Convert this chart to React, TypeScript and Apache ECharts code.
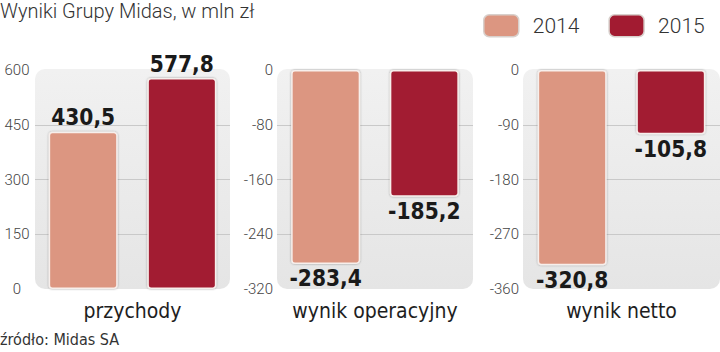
import React, { useEffect, useRef } from "react";
import * as echarts from "echarts";

const title = "Wyniki Grupy Midas, w mln zł";
const source = "źródło: Midas SA";
const years = ["2014", "2015"];
const groups = ["przychody", "wynik operacyjny", "wynik netto"];
const values2014 = [430.5, -283.4, -320.8];
const values2015 = [577.8, -185.2, -105.8];
const axisMin = [0, -320, -360];
const axisMax = [600, 0, 0];
const axisStep = [150, 80, 90];
const colors = ["#DC9681", "#A21B31"];

const gridLefts = [35, 277, 523];
const gridWidths = [195, 196, 197];
const GRID_TOP = 70;
const GRID_H = 219;

const condensed = "'Liberation Sans Narrow', 'DejaVu Sans Condensed', 'Roboto', sans-serif";
const light = "'Roboto', 'Lato', sans-serif";

const fmt = (v: number) => v.toFixed(1).replace(".", ",");

export default function App() {
  const ref = useRef<HTMLDivElement>(null);
  useEffect(() => {
    if (!ref.current) return;
    const chart = echarts.init(ref.current, null, { renderer: "svg" });
    const grids = groups.map((_, i) => ({
      left: gridLefts[i],
      width: gridWidths[i],
      top: GRID_TOP,
      height: GRID_H,
    }));
    const xAxes = groups.map((g, i) => ({
      type: "category",
      gridIndex: i,
      data: [g],
      axisLine: { show: false },
      axisTick: { show: false },
      axisLabel: {
        margin: 11,
        fontSize: 21,
        fontFamily: condensed,
        color: "#1e1e1e",
      },
    }));
    const yAxes = groups.map((_, i) => ({
      type: "value",
      gridIndex: i,
      min: axisMin[i],
      max: axisMax[i],
      interval: axisStep[i],
      axisLine: { show: false },
      axisTick: { show: false },
      axisLabel: {
        margin: i === 0 ? 18 : 4,
        align: i === 0 ? "center" : "right",
        fontSize: 15,
        fontWeight: 300,
        fontFamily: light,
        color: "#444",
      },
      splitLine: {
        show: true,
        showMinLine: false,
        showMaxLine: false,
        lineStyle: { color: "#c9c9c9", width: 1 },
      },
    }));
    const series: any[] = [];
    groups.forEach((_, i) => {
      [values2014, values2015].forEach((vals, k) => {
        const v = vals[i];
        series.push({
          type: "bar",
          name: years[k],
          xAxisIndex: i,
          yAxisIndex: i,
          barWidth: 69,
          barGap: "43%",
          z: 3,
          data: [v],
          itemStyle: {
            color: colors[k],
            borderColor: "#f7efec",
            borderWidth: 1.5,
            borderRadius: 3,
            shadowBlur: 2,
            shadowColor: "rgba(0,0,0,0.35)",
          },
          label: {
            show: true,
            position: v >= 0 ? "top" : "bottom",
            distance: 3,
            formatter: (p: any) => fmt(p.value),
            fontSize: 22.5,
            fontWeight: "bold",
            fontFamily: condensed,
            color: "#1a1a1a",
          },
        });
      });
    });
    const bgRects = groups.map((_, i) => ({
      type: "rect",
      z: 0,
      shape: { x: gridLefts[i], y: GRID_TOP - 1, width: gridWidths[i], height: GRID_H + 1, r: 10 },
      style: {
        fill: new echarts.graphic.LinearGradient(0, 0, 0, 1, [
          { offset: 0, color: "#f1f1f1" },
          { offset: 1, color: "#e5e5e5" },
        ]),
      },
    }));
    chart.setOption({
      animation: false,
      grid: grids,
      xAxis: xAxes,
      yAxis: yAxes,
      series,
      legend: {
        data: years,
        left: 483,
        top: 14,
        padding: 0,
        itemWidth: 35,
        itemHeight: 22,
        itemGap: 29,
        icon: "roundRect",
        itemStyle: { borderColor: "#d8d0cc", borderWidth: 1.5, shadowBlur: 0 },
        textStyle: {
          fontSize: 21,
          fontWeight: 300,
          fontFamily: light,
          color: "#333",
          padding: [0, 0, 0, 9],
        },
      },
      graphic: [
        ...bgRects,
        {
          type: "text",
          left: 0,
          top: 1,
          style: {
            text: title,
            fontSize: 20,
            fontWeight: 300,
            fontFamily: light,
            fill: "#333",
          },
        },
        {
          type: "text",
          left: 0,
          top: 331,
          style: {
            text: source,
            fontSize: 16,
            fontFamily: condensed,
            fill: "#333",
          },
        },
      ],
    });
    return () => chart.dispose();
  }, []);
  return <div ref={ref} style={{ width: 720, height: 352, position: "absolute", left: 0, top: 0 }} />;
}
